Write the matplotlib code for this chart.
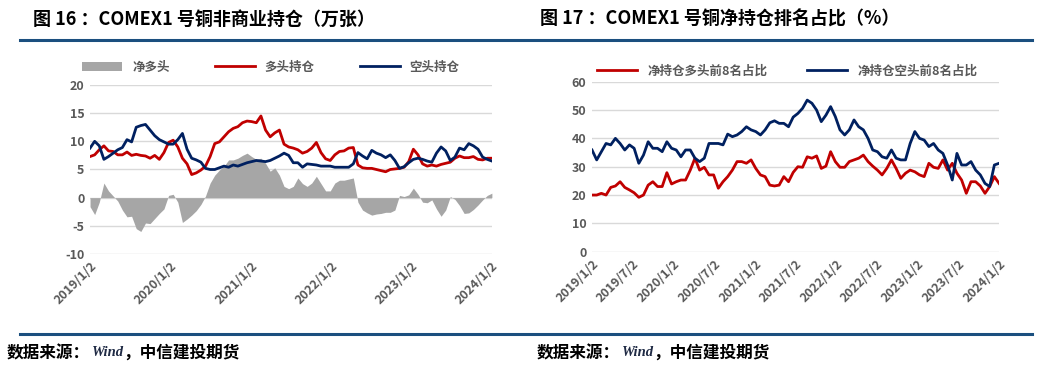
import pandas as pd
import matplotlib.pyplot as plt
import matplotlib.dates as mdates

plt.rcParams['font.family'] = ['Noto Sans CJK SC', 'DejaVu Sans']
plt.rcParams['axes.unicode_minus'] = False

# data: 3-week sampling, 2019-01-02 .. 2024-01-03
dates = pd.date_range("2019-01-02", periods=88, freq="21D")

# left chart, 万张
long_pos = [7.3, 7.6, 8.5, 9.2, 8.3, 8.2, 7.6, 7.6, 8.1, 7.5, 7.7, 7.5, 7.4, 7.0, 7.5, 6.8,
            8.0, 9.8, 10.2, 9.0, 7.0, 6.0, 4.1, 4.4, 4.9, 5.6, 7.3, 9.6, 9.9, 10.8, 11.7, 12.3,
            12.6, 13.3, 13.6, 13.5, 13.3, 14.5, 12.0, 10.8, 11.5, 12.0, 9.5, 9.0, 8.8, 8.5, 7.9, 8.2,
            8.8, 9.8, 8.0, 6.9, 6.6, 7.6, 8.2, 8.3, 8.8, 8.9, 5.8, 5.3, 5.2, 5.2, 5.0, 4.8,
            4.6, 5.0, 5.1, 5.2, 5.4, 6.4, 8.6, 7.6, 6.0, 5.6, 5.8, 5.6, 5.9, 6.1, 6.3, 7.0,
            7.4, 7.1, 7.1, 7.3, 6.8, 6.7, 7.0, 7.0]
short_pos = [8.8, 10.0, 9.2, 6.8, 7.3, 7.9, 8.5, 8.9, 10.3, 9.9, 12.5, 12.8, 13.0, 12.0, 11.0, 10.3,
             9.9, 9.5, 9.5, 10.3, 11.4, 8.6, 7.0, 6.7, 6.3, 5.2, 5.0, 5.0, 5.3, 5.6, 5.4, 5.8,
             5.6, 5.9, 6.2, 6.4, 6.6, 6.5, 6.4, 6.6, 7.0, 7.4, 7.9, 7.5, 6.2, 6.2, 5.4, 6.0,
             5.9, 5.8, 5.6, 5.6, 5.6, 5.4, 5.4, 5.4, 5.4, 6.0, 8.0, 7.4, 6.9, 8.4, 7.9, 7.6,
             7.1, 7.6, 6.6, 5.2, 5.5, 6.2, 6.8, 7.0, 6.8, 6.5, 6.3, 7.9, 9.0, 8.3, 6.6, 7.2,
             8.8, 8.5, 9.6, 9.2, 8.6, 7.2, 6.8, 6.5]
net_long = [-1.6, -3.0, -0.8, 2.6, 1.2, 0.3, -0.6, -2.2, -3.4, -3.3, -5.5, -6.0, -4.5, -4.6, -3.7, -2.8,
            -2.0, 0.4, 0.6, -0.8, -4.4, -3.8, -3.1, -2.3, -1.2, 0.3, 2.6, 4.0, 4.9, 5.6, 6.7, 6.7,
            7.0, 7.5, 7.9, 7.3, 6.8, 7.0, 6.1, 4.7, 5.3, 4.0, 2.0, 1.6, 2.0, 3.5, 2.5, 2.0,
            2.6, 3.8, 2.5, 1.2, 1.2, 2.6, 3.1, 3.1, 3.3, 3.5, -0.8, -2.2, -2.7, -3.1, -2.9, -2.8,
            -2.6, -2.6, -2.2, 0.4, 0.2, 0.5, 1.7, 0.6, -0.8, -0.9, -0.4, -2.0, -3.3, -2.2, 0.2, -0.3,
            -1.4, -2.8, -2.7, -2.1, -1.3, -0.4, 0.4, 0.8]

# right chart, %
top8_long = [20.0, 20.0, 20.6, 20.0, 22.7, 23.2, 24.7, 22.7, 21.8, 20.8, 19.2, 20.0, 23.5, 24.7, 23.0, 23.0,
             27.9, 23.9, 24.7, 25.3, 25.3, 28.8, 33.0, 28.8, 29.8, 27.1, 27.1, 22.4, 24.7, 26.5, 28.8, 31.8,
             31.8, 31.2, 32.4, 29.4, 27.1, 26.5, 23.5, 23.2, 23.5, 26.5, 24.7, 28.0, 30.0, 29.8, 33.5, 33.0,
             33.8, 29.4, 30.2, 35.3, 31.8, 29.8, 29.8, 31.8, 32.4, 33.0, 34.1, 31.8, 30.2, 28.8, 27.1, 29.4,
             32.4, 29.4, 25.9, 27.7, 28.8, 28.2, 27.1, 26.5, 31.2, 29.8, 29.4, 32.4, 28.8, 31.2, 27.7, 25.3,
             20.6, 24.7, 24.7, 23.2, 20.6, 23.0, 26.5, 24.1]
top8_short = [35.9, 32.4, 35.3, 38.2, 37.7, 40.0, 38.2, 35.9, 37.7, 36.5, 31.2, 34.1, 38.8, 36.5, 36.5, 35.3,
              38.8, 36.5, 35.9, 33.5, 35.9, 35.9, 33.0, 31.8, 33.0, 38.2, 38.2, 38.2, 37.7, 41.5, 40.6, 41.2,
              42.4, 44.1, 43.0, 42.4, 41.2, 43.0, 45.5, 46.2, 45.3, 45.3, 44.1, 47.5, 48.8, 50.6, 53.5, 52.4,
              50.0, 45.9, 48.2, 51.2, 47.7, 43.0, 41.2, 43.0, 46.5, 44.1, 43.0, 40.0, 35.9, 35.3, 33.5, 33.0,
              35.9, 33.0, 32.4, 32.4, 38.2, 42.4, 40.0, 39.4, 37.1, 38.2, 35.9, 34.7, 30.6, 25.3, 34.7, 30.6,
              30.6, 31.8, 28.8, 27.1, 24.1, 23.0, 30.6, 31.2]

left_ticks = ["2019-01-02", "2020-01-02", "2021-01-02", "2022-01-02", "2023-01-02", "2024-01-02"]
right_ticks = ["2019-01-02", "2019-07-02", "2020-01-02", "2020-07-02", "2021-01-02", "2021-07-02",
               "2022-01-02", "2022-07-02", "2023-01-02", "2023-07-02", "2024-01-02"]

RED = "#C00000"
NAVY = "#002060"
GREY = "#A6A6A6"
BAR = "#1B4F7F"
TXT = "#595959"

fig = plt.figure(figsize=(10.41, 3.70), dpi=100)


def style_axes(ax, ticks):
    for s in ax.spines.values():
        s.set_visible(False)
    ax.grid(axis="y", color="#D9D9D9", lw=1)
    ax.set_axisbelow(True)
    ax.tick_params(length=0, labelsize=9, labelcolor=TXT, pad=4)
    tk = pd.to_datetime(ticks)
    ax.set_xticks(tk)
    ax.set_xticklabels([f"{d.year}/{d.month}/{d.day}" for d in tk], rotation=45,
                       ha="right", rotation_mode="anchor", fontweight="bold")
    for lab in ax.get_yticklabels():
        lab.set_fontweight("bold")
    ax.set_xlim(pd.Timestamp("2019-01-02"), pd.Timestamp("2024-01-03"))


# left chart
ax1 = fig.add_axes([0.0865, 0.3135, 0.386, 0.4568])
ax1.fill_between(dates, 0, net_long, color=GREY, lw=0, label="净多头")
ax1.plot(dates, long_pos, color=RED, lw=2, label="多头持仓")
ax1.plot(dates, short_pos, color=NAVY, lw=2, label="空头持仓")
ax1.set_ylim(-10, 20)
ax1.set_yticks([-10, -5, 0, 5, 10, 15, 20])
style_axes(ax1, left_ticks)
ax1.legend(loc="lower center", bbox_to_anchor=(0.45, 1.0), ncol=3, frameon=False,
           labelcolor=TXT, handlelength=3.2, columnspacing=3.6,
           prop={"weight": "bold", "size": 9})

# right chart
ax2 = fig.add_axes([0.5687, 0.3197, 0.391, 0.4595])
ax2.plot(dates, top8_long, color=RED, lw=2, label="净持仓多头前8名占比")
ax2.plot(dates, top8_short, color=NAVY, lw=2, label="净持仓空头前8名占比")
ax2.set_ylim(0, 60)
ax2.set_yticks(range(0, 61, 10))
style_axes(ax2, right_ticks)
ax2.legend(loc="lower center", bbox_to_anchor=(0.48, 0.96), ncol=2, frameon=False,
           labelcolor=TXT, handlelength=3.2, columnspacing=3.2,
           prop={"weight": "bold", "size": 9})

# titles, rules and sources
fig.text(33 / 1041, 1 - 19 / 370, "图 16 ：COMEX1 号铜非商业持仓（万张）",
         fontsize=13, fontweight="bold", va="center", ha="left")
fig.text(540 / 1041, 1 - 19 / 370, "图 17 ：COMEX1 号铜净持仓排名占比（%）",
         fontsize=13, fontweight="bold", va="center", ha="left")
for y in (1 - 39.5 / 370, 1 - 334 / 370):
    fig.add_artist(plt.Line2D([20 / 1041, 1032 / 1041], [y, y], color=BAR, lw=2.2))

for x0 in (7, 537):
    y = 1 - 353 / 370
    fig.text(x0 / 1041, y, "数据来源：", fontsize=12, fontweight="bold",
             va="center", ha="left")
    fig.text((x0 + 85) / 1041, y, "Wind", fontsize=10.5, fontweight="bold",
             family="Liberation Serif", style="italic", color="#1F2A44",
             va="center", ha="left")
    fig.text((x0 + 116) / 1041, y, "，中信建投期货", fontsize=12, fontweight="bold",
             va="center", ha="left")

fig.savefig("out.png", dpi=100)
